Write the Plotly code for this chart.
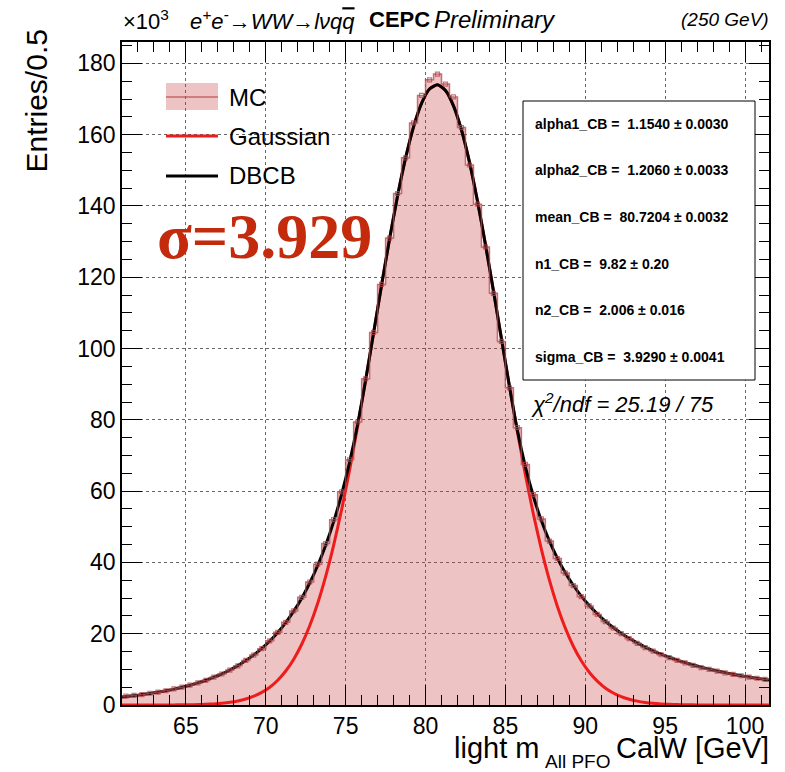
import plotly.graph_objects as go

# ---------------- data ----------------
bin_width = 0.5
x_low, x_high = 61.0, 101.5
bin_centers = [61.25 + bin_width * i for i in range(81)]

# MC histogram contents (x10^3 entries per 0.5 GeV)
mc_counts = [
    2.5, 2.7, 2.9, 3.3, 3.6, 4.0, 4.5, 5.0, 5.6, 6.2,
    6.9, 7.8, 8.7, 9.8, 11.0, 12.5, 14.0, 15.8, 18.0, 20.4,
    23.2, 26.4, 30.2, 34.5, 39.5, 45.3, 52.0, 59.8, 68.8, 79.4,
    91.5, 104.5, 118.0, 131.0, 143.5, 153.5, 163.3, 171.0, 175.4, 177.0,
    174.2, 170.6, 162.0, 151.5, 140.5, 128.5, 115.5, 102.0, 89.0, 77.8,
    67.5, 59.0, 52.2, 46.0, 41.1, 37.0, 33.5, 30.4, 27.8, 25.4,
    23.4, 21.6, 20.0, 18.6, 17.3, 16.1, 15.1, 14.1, 13.3, 12.5,
    11.8, 11.1, 10.5, 10.0, 9.5, 9.0, 8.6, 8.2, 7.8, 7.5,
    7.2,
]

# fitted curves sampled along x (edges + bin centres)
curve_x = [x_low] + bin_centers + [x_high]
dbcb_curve = [
    2.26,
    2.38, 2.63, 2.92, 3.24, 3.60, 4.01, 4.46, 4.98, 5.55, 6.21,
    6.95, 7.79, 8.74, 9.82, 11.05, 12.45, 14.05, 15.87, 17.97, 20.37,
    23.13, 26.32, 29.98, 34.22, 39.13, 44.84, 51.45, 59.18, 68.19, 78.74,
    91.09, 104.4, 117.8, 130.8, 142.8, 153.4, 162.2, 168.8, 172.8, 174.0,
    172.4, 168.1, 161.3, 152.3, 141.4, 129.2, 116.2, 102.8, 89.5, 77.04,
    66.86, 58.56, 51.73, 46.02, 41.20, 37.10, 33.59, 30.54, 27.90, 25.59,
    23.55, 21.74, 20.13, 18.70, 17.42, 16.26, 15.21, 14.26, 13.40, 12.61,
    11.89, 11.23, 10.63, 10.07, 9.55, 9.08, 8.63, 8.22, 7.84, 7.49,
    7.16,
    6.99,
]
gauss_curve = [
    0.0,
    0.0, 0.0, 0.0, 0.0, 0.01, 0.02, 0.03, 0.05, 0.08, 0.12,
    0.20, 0.31, 0.49, 0.75, 1.13, 1.68, 2.46, 3.53, 5.00, 6.96,
    9.53, 12.85, 17.04, 22.24, 28.55, 36.08, 44.85, 54.86, 66.02, 78.18,
    91.09, 104.4, 117.8, 130.8, 142.8, 153.4, 162.2, 168.8, 172.8, 174.0,
    172.4, 168.1, 161.3, 152.3, 141.4, 129.2, 116.2, 102.8, 89.5, 76.68,
    64.62, 53.59, 43.73, 35.10, 27.73, 21.56, 16.48, 12.40, 9.18, 6.69,
    4.79, 3.38, 2.35, 1.60, 1.08, 0.71, 0.46, 0.30, 0.19, 0.11,
    0.07, 0.04, 0.02, 0.01, 0.01, 0.0, 0.0, 0.0, 0.0, 0.0,
    0.0,
    0.0,
]

legend_labels = ["MC", "Gaussian", "DBCB"]
fit_params = [
    "alpha1_CB =  1.1540 ± 0.0030",
    "alpha2_CB =  1.2060 ± 0.0033",
    "mean_CB =  80.7204 ± 0.0032",
    "n1_CB =  9.82 ± 0.20",
    "n2_CB =  2.006 ± 0.016",
    "sigma_CB =  3.9290 ± 0.0041",
]
chi2_text = "χ<sup>2</sup>/ndf = 25.19 / 75"
sigma_text = "σ=3.929"

# ---------------- styling ----------------
W, H = 785, 772
ML, MR, MT, MB = 122, 16, 42, 67
PW, PH = W - ML - MR, H - MT - MB

FILL = "rgba(200,60,65,0.31)"
STEP = "rgba(180,70,75,0.75)"
RED = "#EE1C1C"
FONT = "Liberation Sans, Arial, Helvetica, sans-serif"


def px(x):
    return (x - ML) / PW


def py(y):
    return (H - MB - y) / PH


# step arrays derived from the bin centres
step_x = [c - bin_width / 2 for c in bin_centers] + [bin_centers[-1] + bin_width / 2]
step_y = mc_counts + [mc_counts[-1]]

fig = go.Figure()
fig.add_trace(go.Scatter(x=step_x, y=step_y, mode="lines", line=dict(shape="hv", width=0),
                         fill="tozeroy", fillcolor=FILL, hoverinfo="skip", showlegend=False))
fig.add_trace(go.Scatter(x=curve_x, y=gauss_curve, mode="lines",
                         line=dict(color=RED, width=3, shape="spline", smoothing=0.6),
                         showlegend=False))
fig.add_trace(go.Scatter(x=curve_x, y=dbcb_curve, mode="lines",
                         line=dict(color="black", width=3, shape="spline", smoothing=0.6),
                         showlegend=False))
fig.add_trace(go.Scatter(x=step_x, y=step_y, mode="lines", line=dict(shape="hv", color=STEP, width=1.5),
                         showlegend=False))
fig.add_trace(go.Scatter(x=bin_centers, y=mc_counts, mode="markers",
                         marker=dict(symbol="square-open", size=4, color=STEP, line=dict(width=1.2, color=STEP)),
                         showlegend=False))

axis_common = dict(
    showline=True, linecolor="black", linewidth=1.5, mirror="allticks",
    ticks="inside", ticklen=20, tickwidth=1.2, tickcolor="black",
    showgrid=True, gridcolor="rgba(0,0,0,0.6)", griddash="dot", gridwidth=1,
    zeroline=False, layer="above traces",
    tickfont=dict(family=FONT, size=23, color="black"),
)

fig.update_layout(
    width=W, height=H,
    margin=dict(l=ML, r=MR, t=MT, b=MB),
    paper_bgcolor="white", plot_bgcolor="white",
    xaxis=dict(range=[x_low, x_high], tick0=0, dtick=5,
               minor=dict(dtick=1, ticks="inside", ticklen=10, tickcolor="black", tickwidth=1, showgrid=False),
               **axis_common),
    yaxis=dict(range=[0, 186], tick0=0, dtick=20,
               minor=dict(dtick=5, ticks="inside", ticklen=10, tickcolor="black", tickwidth=1, showgrid=False),
               **axis_common),
    showlegend=False,
)

ann = []
# axis titles
ann.append(dict(x=px(36), y=py(27), xref="paper", yref="paper", text="Entries/0.5", textangle=-90,
                showarrow=False, xanchor="center", yanchor="top", font=dict(family=FONT, size=30, color="black")))
ann.append(dict(x=px(541), y=py(748), xref="paper", yref="paper", text="light m",
                showarrow=False, xanchor="right", yanchor="middle", font=dict(family=FONT, size=29, color="black")))
ann.append(dict(x=px(543), y=py(761), xref="paper", yref="paper", text="All PFO",
                showarrow=False, xanchor="left", yanchor="middle", font=dict(family=FONT, size=19, color="black")))
ann.append(dict(x=px(771), y=py(748), xref="paper", yref="paper", text="CalW [GeV]",
                showarrow=False, xanchor="right", yanchor="middle", font=dict(family=FONT, size=29, color="black")))
# header
ann.append(dict(x=px(121), y=py(20), xref="paper", yref="paper", text="×10<sup>3</sup>",
                showarrow=False, xanchor="left", yanchor="middle", font=dict(family=FONT, size=22, color="black")))
ann.append(dict(x=px(188), y=py(20), xref="paper", yref="paper",
                text="<i>e<sup>+</sup>e<sup>-</sup>→WW→lνq<span style='text-decoration:overline'>q</span></i>",
                showarrow=False, xanchor="left", yanchor="middle", font=dict(family=FONT, size=22, color="black")))
ann.append(dict(x=px(367), y=py(20), xref="paper", yref="paper", text="<b>CEPC</b>",
                showarrow=False, xanchor="left", yanchor="middle", font=dict(family=FONT, size=22, color="black")))
ann.append(dict(x=px(432), y=py(20), xref="paper", yref="paper", text="<i>Preliminary</i>",
                showarrow=False, xanchor="left", yanchor="middle", font=dict(family=FONT, size=24, color="black")))
ann.append(dict(x=px(771), y=py(20), xref="paper", yref="paper", text="<i>(250 GeV)</i>",
                showarrow=False, xanchor="right", yanchor="middle", font=dict(family=FONT, size=19, color="black")))
# sigma label
ann.append(dict(x=px(155), y=py(237), xref="paper", yref="paper", text="<b>" + sigma_text + "</b>",
                showarrow=False, xanchor="left", yanchor="middle",
                font=dict(family="Liberation Serif, Times New Roman, serif", size=64, color="#C42A0C")))
# legend
legend_y = [97, 136, 176]
for lab, ly in zip(legend_labels, legend_y):
    ann.append(dict(x=px(227), y=py(ly), xref="paper", yref="paper", text=lab, showarrow=False,
                    xanchor="left", yanchor="middle", font=dict(family=FONT, size=24, color="black")))
# stats box text
stat_y = [124, 170, 217, 264, 310, 357]
for t, sy in zip(fit_params, stat_y):
    ann.append(dict(x=px(533), y=py(sy), xref="paper", yref="paper", text="<b>" + t + "</b>", showarrow=False,
                    xanchor="left", yanchor="middle", font=dict(family=FONT, size=14, color="black")))
ann.append(dict(x=px(529), y=py(403), xref="paper", yref="paper", text="<i>" + chi2_text + "</i>", showarrow=False,
                xanchor="left", yanchor="middle", font=dict(family=FONT, size=22, color="black")))

shapes = [
    # legend symbols
    dict(type="rect", xref="paper", yref="paper", x0=px(166), x1=px(218), y0=py(110), y1=py(83),
         fillcolor=FILL, line=dict(width=0)),
    dict(type="line", xref="paper", yref="paper", x0=px(166), x1=px(218), y0=py(97), y1=py(97),
         line=dict(color=STEP, width=1.5)),
    dict(type="line", xref="paper", yref="paper", x0=px(166), x1=px(218), y0=py(136), y1=py(136),
         line=dict(color=RED, width=3)),
    dict(type="line", xref="paper", yref="paper", x0=px(166), x1=px(218), y0=py(176), y1=py(176),
         line=dict(color="black", width=3)),
    # stats box
    dict(type="rect", xref="paper", yref="paper", x0=px(523), x1=px(755), y0=py(380), y1=py(101),
         fillcolor="white", line=dict(color="black", width=1)),
]

fig.update_layout(annotations=ann, shapes=shapes)
fig.write_html("out.html")
